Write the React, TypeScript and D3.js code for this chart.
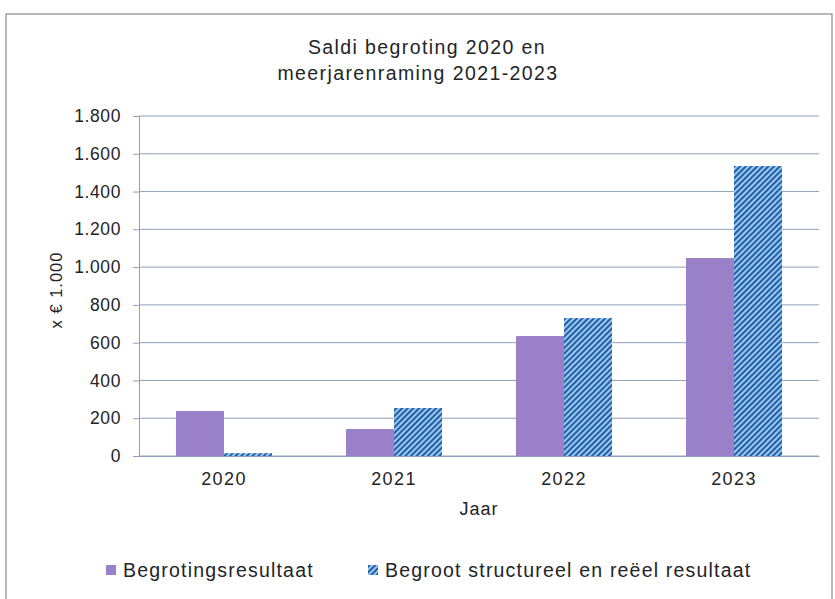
import * as d3 from 'd3';
import React, { useRef, useEffect } from 'react';

// --------------------------------------------------------
// data
// --------------------------------------------------------
const years = ['2020', '2021', '2022', '2023'];
const begrotingsresultaat = [238, 143, 635, 1048];
const structureelResultaat = [15, 254, 730, 1535];
const yTicks = [0, 200, 400, 600, 800, 1000, 1200, 1400, 1600, 1800];
const seriesNames = ['Begrotingsresultaat', 'Begroot structureel en reëel resultaat'];

const W = 835;
const H = 599;
const FONT = '"Liberation Sans", Arial, sans-serif';
const INK = '#222428';

function App() {
  const svgRef = useRef<SVGSVGElement>(null);

  useEffect(() => {
    const svg = d3.select(svgRef.current);
    svg.selectAll('*').remove();

    const plot = { left: 139, right: 819, top: 116, bottom: 456 };

    const x = d3.scaleBand<string>().domain(years).range([plot.left, plot.right]);
    // two bars of ~48px in a 170px band
    const sub = d3.scaleBand<number>().domain([0, 1]).range([0, x.bandwidth()]).paddingInner(0).paddingOuter(0.77);
    const y = d3.scaleLinear().domain([0, 1800]).range([plot.bottom, plot.top]);

    // hatch pattern for the second series
    const defs = svg.append('defs');
    const pat = defs.append('pattern')
      .attr('id', 'hatch')
      .attr('patternUnits', 'userSpaceOnUse')
      .attr('width', 4).attr('height', 4)
      .attr('patternTransform', 'rotate(45)');
    pat.append('rect').attr('width', 4).attr('height', 4).attr('fill', '#9cc6ea');
    pat.append('rect').attr('width', 2).attr('height', 4).attr('fill', '#2060a8');

    // outer frame
    svg.append('rect')
      .attr('x', 6).attr('y', 14).attr('width', 826).attr('height', 600)
      .attr('fill', 'white').attr('stroke', '#8a8a8a').attr('stroke-width', 1.2);

    // title
    const title = svg.append('text')
      .attr('text-anchor', 'middle')
      .attr('font-family', FONT).attr('font-size', 19.5).attr('letter-spacing', 1.4).attr('fill', INK);
    title.append('tspan').attr('x', 427).attr('y', 54).text('Saldi begroting 2020 en');
    title.append('tspan').attr('x', 418).attr('y', 80).text('meerjarenraming 2021-2023');

    // gridlines
    svg.append('g')
      .selectAll('line')
      .data(yTicks)
      .join('line')
      .attr('x1', plot.left).attr('x2', plot.right)
      .attr('y1', d => y(d)).attr('y2', d => y(d))
      .attr('stroke', '#8ea0b8').attr('stroke-width', 1);

    // y axis
    const yAxis = svg.append('g')
      .attr('transform', `translate(${plot.left},0)`)
      .call(d3.axisLeft(y).tickValues(yTicks).tickSize(6).tickPadding(12)
        .tickFormat(d => d3.format(',')(d as number).replace(/,/g, '.')));
    yAxis.select('.domain').attr('stroke', '#8ea0b8');
    yAxis.selectAll('.tick line').attr('stroke', '#8ea0b8');
    yAxis.selectAll('.tick text')
      .attr('font-family', FONT).attr('font-size', 17.5).attr('letter-spacing', 0.6).attr('fill', INK);

    svg.append('text')
      .attr('transform', `translate(62,290) rotate(-90)`)
      .attr('text-anchor', 'middle')
      .attr('font-family', FONT).attr('font-size', 16.5).attr('letter-spacing', 1).attr('fill', INK)
      .text('x € 1.000');

    // bars
    const fills = ['#9a80c8', 'url(#hatch)'];
    [begrotingsresultaat, structureelResultaat].forEach((values, s) => {
      svg.append('g')
        .selectAll('rect')
        .data(values)
        .join('rect')
        .attr('x', (d, i) => (x(years[i]) as number) + (sub(s) as number))
        .attr('width', sub.bandwidth())
        .attr('y', d => y(d))
        .attr('height', d => y(0) - y(d))
        .attr('fill', fills[s]);
    });

    // x axis
    const xAxis = svg.append('g')
      .attr('transform', `translate(0,${plot.bottom})`)
      .call(d3.axisBottom(x).tickSize(0).tickPadding(16));
    xAxis.select('.domain').attr('stroke', '#8ea0b8');
    xAxis.selectAll('.tick text')
      .attr('font-family', FONT).attr('font-size', 18).attr('letter-spacing', 1.4).attr('fill', INK);

    svg.append('text')
      .attr('x', 479).attr('y', 515)
      .attr('text-anchor', 'middle')
      .attr('font-family', FONT).attr('font-size', 18).attr('letter-spacing', 1).attr('fill', INK)
      .text('Jaar');

    // legend
    const legendX = [106, 368];
    seriesNames.forEach((name, s) => {
      svg.append('rect')
        .attr('x', legendX[s]).attr('y', 565).attr('width', 10).attr('height', 10)
        .attr('fill', fills[s]);
      svg.append('text')
        .attr('x', legendX[s] + 17).attr('y', 577)
        .attr('font-family', FONT).attr('font-size', 19.5).attr('letter-spacing', 1.2).attr('fill', INK)
        .text(name);
    });
  }, []);

  return (
    <div style={{ position: 'absolute', left: 0, top: 0 }}>
      <svg ref={svgRef} width={W} height={H} style={{ display: 'block', background: 'white' }} />
    </div>
  );
}

export default App;
